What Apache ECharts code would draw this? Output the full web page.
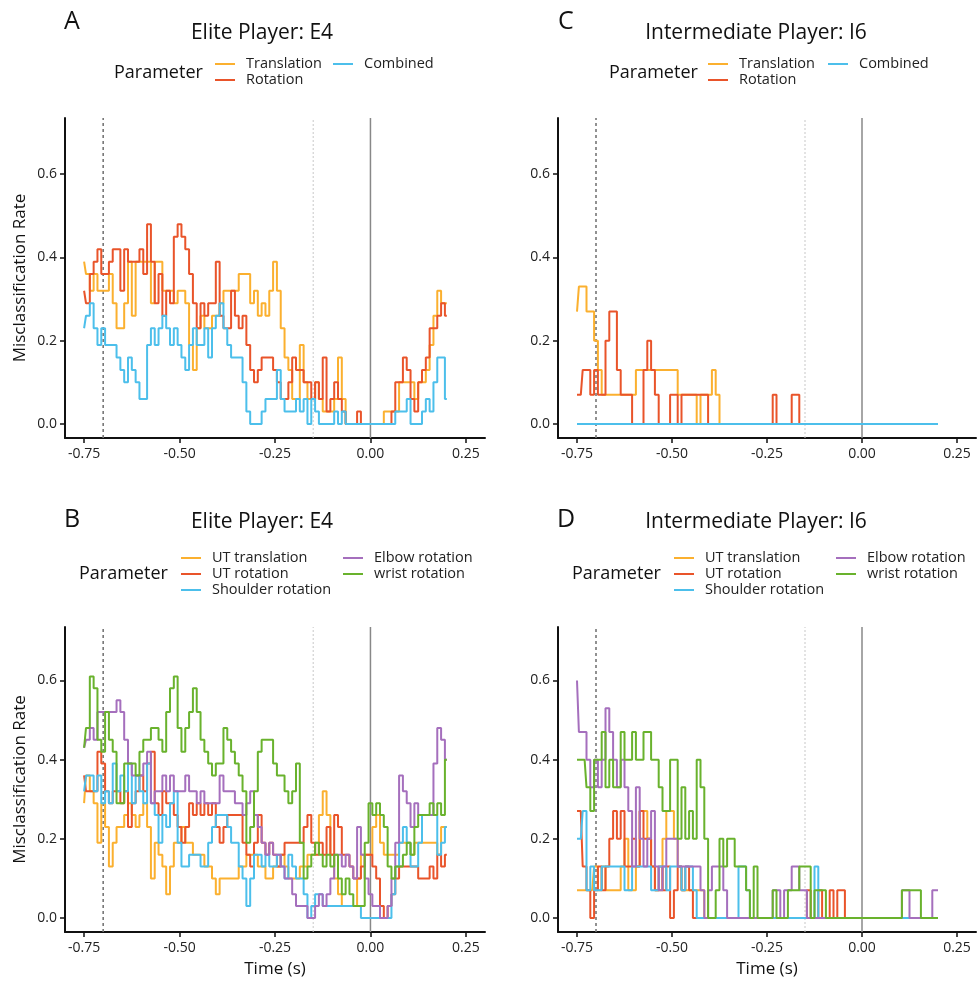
<!DOCTYPE html>
<html><head><meta charset="utf-8">
<script src="https://cdn.jsdelivr.net/npm/echarts@6/dist/echarts.min.js"></script>
<style>html,body{margin:0;padding:0;background:#fff}#c{width:978px;height:983px}</style>
</head><body><div id="c"></div>
<script>
// ---- time grid (s) ----
const time = Array.from({length: 96}, (_, k) => Math.round((-0.75 + 0.01 * k) * 100) / 100);
const xTicks = [-0.75, -0.5, -0.25, 0, 0.25];
const yTicks = [0, 0.2, 0.4, 0.6];
const refLines = [-0.7, -0.15, 0];

// ---- Panel A: Elite Player E4 ----
const aTrans = [.39,.36,.32,.36,.32,.32,.32,.36,.29,.23, .23,.29,.39,.26,.39,.39,.39,.39,.29,.39,
 .39,.32,.32,.32,.29,.32,.32,.29,.19,.13, .23,.26,.23,.23,.26,.26,.29,.32,.32,.32,
 .32,.36,.36,.36,.29,.32,.26,.29,.26,.32, .39,.32,.23,.16,.13,.06,.06,.19,.10,.06,
 .06,.10,.06,.03,.03,.03,.06,.16,.06,0, 0,0,0,0,0,0,0,0,0,.03,
 .03,.03,.03,.10,.10,.10,.10,.06,.10,.10, .13,.19,.26,.32,.29,.29];
const aRot = [.32,.29,.36,.39,.42,.36,.36,.39,.42,.42, .32,.42,.39,.39,.39,.42,.36,.48,.39,.29,
 .36,.26,.32,.29,.45,.48,.45,.42,.36,.29, .23,.29,.26,.29,.29,.39,.26,.23,.23,.32,
 .26,.23,.26,.19,.13,.10,.13,.16,.16,.16, .13,.10,.06,.06,.10,.16,.13,.13,.10,.10,
 .06,.10,.06,.16,.03,.06,.10,.06,.03,0, 0,0,.03,0,0,0,0,0,0,0,
 0,.03,.10,.10,.16,.13,.06,.03,.10,.13, .16,.23,.23,.26,.29,.26];
const aComb = [.23,.26,.29,.23,.19,.23,.19,.19,.19,.16, .13,.10,.16,.13,.10,.06,.06,.19,.23,.19,
 .23,.26,.23,.19,.23,.19,.16,.13,.19,.23, .19,.19,.23,.16,.23,.26,.29,.23,.19,.16,
 .16,.16,.10,.03,0,0,0,.03,.06,.06, .06,.13,.06,.03,.03,.03,.06,.03,.06,0,
 .06,.03,0,0,0,0,.03,0,.03,0, 0,0,0,0,0,0,0,0,0,0,
 0,0,.03,.03,.03,.06,0,0,0,.03, .06,.03,.10,.16,.16,.06];

// ---- Panel C: Intermediate Player I6 ----
const cTrans = [.27,.33,.33,.27,.27,.20,.13,.07,.07,.07, .07,.07,.07,.07,.07,.07,.13,.13,.13,.13,
 .13,.13,.13,.13,.13,.13,.13,.07,.07,.07, .07,.07,0,.07,.07,.07,.13,.07,0,0,
 0,0,0,0,0,0,0,0,0,0, 0,0,0,0,0,0,0,0,0,0, 0,0,0,0,0,0,0,0,0,0,
 0,0,0,0,0,0,0,0,0,0, 0,0,0,0,0,0,0,0,0,0, 0,0,0,0,0,0];
const cRot = [.07,.07,.13,.13,.07,.13,.07,.07,.20,.27, .27,.13,.07,.07,.07,0,0,0,.13,.20,
 .13,.07,0,0,0,.07,.07,0,.07,.07, .07,.07,.07,.07,.07,0,0,0,0,0,
 0,0,0,0,0,0,0,0,0,0, 0,0,.07,0,0,0,0,.07,.07,0, 0,0,0,0,0,0,0,0,0,0,
 0,0,0,0,0,0,0,0,0,0, 0,0,0,0,0,0,0,0,0,0, 0,0,0,0,0,0];
const cComb = [0,0,0,0,0,0,0,0,0,0, 0,0,0,0,0,0,0,0,0,0, 0,0,0,0,0,0,0,0,0,0,
 0,0,0,0,0,0,0,0,0,0, 0,0,0,0,0,0,0,0,0,0, 0,0,0,0,0,0,0,0,0,0, 0,0,0,0,0,0,0,0,0,0,
 0,0,0,0,0,0,0,0,0,0, 0,0,0,0,0,0,0,0,0,0, 0,0,0,0,0,0];

// ---- Panel B: Elite Player E4, segments ----
const bUTT = [.29,.36,.32,.29,.19,.29,.23,.13,.19,.23, .23,.26,.29,.26,.23,.26,.29,.23,.10,.19,
 .16,.13,.06,.13,.19,.19,.23,.19,.19,.16, .16,.16,.13,.13,.10,.06,.10,.10,.10,.10,
 .10,.13,.13,.16,.16,.16,.13,.13,.10,.10, .13,.13,.16,.13,.10,.10,.10,.13,.13,.16,
 .16,.19,.26,.32,.26,.16,.10,.06,.03,.03, .03,.03,.10,.16,.16,.16,.23,.26,.19,.16,
 .16,.16,.16,.19,.19,.19,.16,.19,.19,.19, .19,.19,.19,.16,.23,.23];
const bUTR = [.36,.32,.32,.32,.42,.39,.32,.29,.32,.32, .29,.32,.23,.29,.32,.36,.32,.39,.42,.29,
 .26,.32,.29,.29,.26,.23,.19,.23,.29,.26, .29,.26,.29,.26,.29,.23,.19,.23,.26,.26,
 .26,.26,.19,.16,.13,.19,.26,.19,.16,.19, .16,.13,.16,.19,.19,.19,.19,.19,.23,.26,
 .19,.16,.19,.16,.23,.16,.26,.23,.16,.16, .13,.10,.10,.13,.16,.16,.13,.10,.03,0,
 .03,.06,.10,.13,.13,.13,.13,.13,.10,.10, .10,.13,.10,.16,.13,.16];
const bShoulder = [.32,.36,.36,.32,.36,.29,.32,.29,.39,.32, .36,.32,.39,.29,.36,.32,.29,.39,.29,.26,
 .19,.26,.23,.29,.32,.19,.13,.13,.16,.16, .16,.13,.13,.19,.23,.26,.26,.26,.23,.19,
 .19,.13,.10,.03,.10,.16,.16,.13,.16,.13, .13,.16,.13,.10,.16,.13,.10,.10,.06,0,
 .03,.06,.06,.03,.03,.03,.03,.03,.03,.03, .03,.03,.03,0,0,0,0,0,0,0,
 0,.06,.13,.19,.23,.19,.13,.13,.19,.26, .26,.26,.26,.16,.19,.23];
const bElbow = [.43,.45,.48,.45,.52,.52,.52,.52,.52,.55, .52,.45,.39,.36,.36,.36,.39,.42,.29,.32,
 .32,.36,.32,.36,.32,.32,.32,.36,.32,.32, .29,.32,.29,.29,.29,.29,.36,.32,.32,.32,
 .29,.29,.26,.29,.32,.26,.23,.19,.16,.19, .16,.16,.13,.10,.10,.06,.03,.03,.03,0,
 0,.03,.06,.03,.06,.10,.16,.16,.13,.16, .13,.10,.23,.16,.10,.06,.03,.03,0,0,
 .03,.10,.19,.36,.32,.29,.23,.29,.26,.26, .26,.26,.39,.48,.45,.40];
const bWrist = [.43,.48,.61,.58,.45,.42,.52,.45,.42,.29, .29,.39,.39,.39,.36,.42,.45,.45,.48,.48,
 .45,.42,.52,.58,.61,.48,.42,.48,.52,.58, .52,.45,.42,.39,.36,.39,.39,.48,.45,.42,
 .39,.36,.32,.19,.23,.32,.42,.45,.45,.45, .39,.36,.36,.32,.29,.32,.39,.19,.10,.13,
 .16,.19,.16,.13,.16,.13,.16,.10,.06,.10, .06,.03,.03,.03,.19,.29,.26,.29,.26,.23,
 .13,.10,.13,.13,.16,.19,.16,.23,.26,.26, .26,.29,.26,.29,.26,.40];

// ---- Panel D: Intermediate Player I6, segments ----
const dUTT = [.07,.07,.07,.07,.07,.13,.07,.13,.07,.07, .07,.07,.13,.20,.07,.07,.13,.27,.27,.20,
 .13,.07,.07,.20,.27,.27,.20,.13,.07,.07, .07,.07,.07,.07,0,0,0,0,0,0,
 0,0,0,0,0,0,0,0,0,0, 0,0,0,0,0,0,0,0,0,0, 0,0,0,0,0,0,0,0,0,0,
 0,0,0,0,0,0,0,0,0,0, 0,0,0,0,0,0,0,0,0,0, 0,0,0,0,0,0];
const dUTR = [.27,.27,.13,.07,0,.07,.13,.07,.13,.20, .27,.20,.27,.13,.13,.20,.13,.27,.20,.20,
 .13,.07,.13,.07,.13,0,.07,.13,.07,.13, .07,0,0,0,0,0,0,0,0,0,
 0,0,0,0,0,0,0,0,0,0, 0,0,0,0,0,0,0,0,0,0, 0,.07,0,0,.07,0,0,.07,0,.07,
 .07,0,0,0,0,0,0,0,0,0, 0,0,0,0,0,0,0,0,0,0, 0,0,0,0,0,0];
const dShoulder = [.20,.20,.27,.07,.13,.07,.07,.13,.13,.13, .13,.13,.13,.07,.07,.13,.13,.13,.13,.13,
 .07,.07,.13,.13,.07,.13,.13,.13,.07,.13, .13,.07,0,0,0,0,0,0,0,0,
 0,0,0,.13,.13,.07,0,0,0,0, 0,0,0,0,0,0,0,0,0,0, 0,0,0,.13,0,0,0,0,0,0,
 0,0,0,0,0,0,0,0,0,0, 0,0,0,0,0,0,0,0,0,0, 0,0,0,0,0,0];
const dElbow = [.60,.47,.47,.40,.33,.40,.33,.40,.53,.47, .40,.33,.40,.33,.27,.13,.33,.20,.13,.20,
 .27,.13,.07,.13,.20,.20,.20,.13,.13,.13, .13,.13,.13,.07,0,.07,.13,.13,.13,.07,
 0,0,0,0,0,0,0,0,0,0, 0,0,.07,.07,0,.07,.07,.13,.13,.07, .07,0,0,0,0,0,0,0,0,0,
 0,0,0,0,0,0,0,0,0,0, 0,0,0,0,0,0,.07,.07,0,0, 0,0,0,0,.07,.07];
const dWrist = [.40,.40,.40,.33,.27,.40,.40,.47,.33,.40, .33,.33,.47,.40,.40,.47,.40,.40,.47,.47,
 .40,.40,.33,.27,.27,.40,.40,.20,.33,.20, .27,.20,.40,.33,.20,0,0,.07,.20,.13,
 .20,.20,.13,.13,.13,.07,0,.13,0,0, 0,0,.07,0,0,0,.07,.07,.07,.13, .13,.13,0,.07,.07,.07,0,0,0,0,
 0,0,0,0,0,0,0,0,0,0, 0,0,0,0,0,0,.07,.07,.07,.07, .07,0,0,0,0,0];

// ---- names & colours ----
const topNames = ['Translation', 'Rotation', 'Combined'];
const botNames = ['UT translation', 'UT rotation', 'Shoulder rotation', 'Elbow rotation', 'wrist rotation'];
const titles = ['Elite Player: E4', 'Intermediate Player: I6', 'Elite Player: E4', 'Intermediate Player: I6'];
const letters = ['A', 'C', 'B', 'D'];
const C_OR = '#FBB02F', C_RD = '#E9542A', C_BL = '#4CBFEB', C_PU = '#A56FBD', C_GR = '#69B22D';

const FONT = 'Open Sans, Noto Sans, sans-serif';
const Y_MAX = 0.735;
// axis minimums chosen so the zero line lands on a whole pixel row
const yMins = [-0.03363, -0.03363, -0.035361, -0.035361];
const grids = [
  {left: 65, top: 118, width: 420, height: 320},
  {left: 558, top: 118, width: 418, height: 320},
  {left: 65, top: 627, width: 420, height: 305},
  {left: 558, top: 627, width: 418, height: 305}
];

const panels = [
  [[topNames[0], aTrans, C_OR], [topNames[1], aRot, C_RD], [topNames[2], aComb, C_BL]],
  [[topNames[0], cTrans, C_OR], [topNames[1], cRot, C_RD], [topNames[2], cComb, C_BL]],
  [[botNames[0], bUTT, C_OR], [botNames[1], bUTR, C_RD], [botNames[2], bShoulder, C_BL], [botNames[3], bElbow, C_PU], [botNames[4], bWrist, C_GR]],
  [[botNames[0], dUTT, C_OR], [botNames[1], dUTR, C_RD], [botNames[2], dShoulder, C_BL], [botNames[3], dElbow, C_PU], [botNames[4], dWrist, C_GR]]
];

const refStyles = [
  {color: '#777', type: [3, 3], width: 1.6},
  {color: '#c8c8c8', type: [2, 2], width: 1},
  {color: '#888', type: 'solid', width: 1.5}
];

const xAxes = grids.map((g, i) => ({
  type: 'value', gridIndex: i, min: -0.8, max: 0.3,
  name: i >= 2 ? 'Time (s)' : '', nameLocation: 'middle', nameGap: 29,
  nameTextStyle: {fontSize: 17, color: '#111', fontFamily: FONT},
  axisLine: {show: true, onZero: false, lineStyle: {color: '#111', width: 2}},
  axisTick: {show: true, length: 5, customValues: xTicks, lineStyle: {color: '#111', width: 1.5}},
  axisLabel: {customValues: xTicks, formatter: v => v.toFixed(2), fontSize: 14, color: '#222', margin: 9, fontFamily: FONT},
  splitLine: {show: false}
}));
const yAxes = grids.map((g, i) => ({
  type: 'value', gridIndex: i, min: yMins[i], max: Y_MAX,
  name: (i === 0 || i === 2) ? 'Misclassification Rate' : '', nameLocation: 'middle', nameGap: 36,
  nameTextStyle: {fontSize: 17, color: '#111', fontFamily: FONT},
  axisLine: {show: true, onZero: false, lineStyle: {color: '#111', width: 2}},
  axisTick: {show: true, length: 5, customValues: yTicks, lineStyle: {color: '#111', width: 1.5}},
  axisLabel: {customValues: yTicks, formatter: v => v.toFixed(1), fontSize: 14, color: '#222', margin: 8, fontFamily: FONT},
  splitLine: {show: false}
}));

const series = [];
panels.forEach((ps, pi) => {
  refLines.forEach((x, j) => {
    series.push({
      type: 'line', name: 'ref' + pi + '_' + j, xAxisIndex: pi, yAxisIndex: pi,
      data: [[x, yMins[pi]], [x, Y_MAX]], showSymbol: false, symbol: 'none', silent: true,
      lineStyle: refStyles[j], z: 2
    });
  });
  ps.forEach((s, si) => {
    series.push({
      type: 'line', name: s[0], xAxisIndex: pi, yAxisIndex: pi,
      data: time.map((t, k) => [t, s[1][k]]),
      step: 'middle',
      showSymbol: false, symbol: 'none',
      emphasis: {disabled: true},
      lineStyle: {color: s[2], width: 2},
      itemStyle: {color: s[2]},
      z: 3 + si
    });
  });
});

const legText = {fontSize: 14.5, color: '#222', fontFamily: FONT, lineHeight: 16, padding: [0, 0, 0, 6]};
const mkLegend = (left, top, data) => ({
  orient: 'vertical', left, top, padding: 0, itemGap: 0, itemWidth: 20, itemHeight: 2,
  icon: 'rect', selectedMode: false, data, textStyle: legText
});
const legends = [
  mkLegend(215, 56, ['Translation', 'Rotation']), mkLegend(333, 56, ['Combined']),
  mkLegend(708, 56, ['Translation', 'Rotation']), mkLegend(828, 56, ['Combined']),
  mkLegend(181, 550, ['UT translation', 'UT rotation', 'Shoulder rotation']), mkLegend(343, 550, ['Elbow rotation', 'wrist rotation']),
  mkLegend(674, 550, ['UT translation', 'UT rotation', 'Shoulder rotation']), mkLegend(836, 550, ['Elbow rotation', 'wrist rotation'])
];

const txt = (x, y, text, size, align) => ({
  type: 'text', x, y,
  style: {text, fontSize: size, fontFamily: FONT, fill: '#111', align: align || 'center', verticalAlign: 'middle'}
});
const titlePos = [[262, 33], [756, 33], [262, 522], [756, 522]];
const letterPos = [[64, 22], [558, 22], [64, 520], [557, 520]];
const paramPos = [[114, 73], [609, 73], [79, 574], [572, 574]];
const graphics = [];
titles.forEach((t, i) => graphics.push(txt(titlePos[i][0], titlePos[i][1], t, 21)));
letters.forEach((t, i) => graphics.push(txt(letterPos[i][0], letterPos[i][1], t, 25, 'left')));
paramPos.forEach(p => graphics.push(txt(p[0], p[1], 'Parameter', 18, 'left')));

const chart = echarts.init(document.getElementById('c'), null, {renderer: 'canvas'});
chart.setOption({
  animation: false,
  backgroundColor: '#fff',
  textStyle: {fontFamily: FONT},
  grid: grids.map(g => Object.assign({containLabel: false}, g)),
  xAxis: xAxes, yAxis: yAxes,
  legend: legends,
  graphic: graphics,
  series
});
</script></body></html>
